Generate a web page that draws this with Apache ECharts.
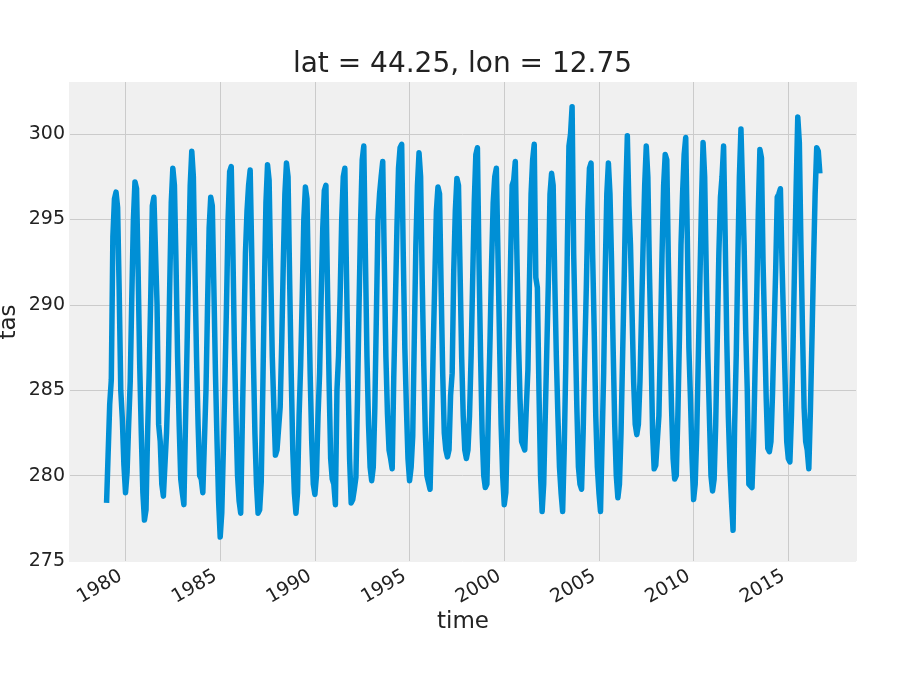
<!DOCTYPE html>
<html>
<head>
<meta charset="utf-8">
<script src="https://cdn.jsdelivr.net/npm/echarts@6/dist/echarts.min.js"></script>
<style>
html, body { margin: 0; padding: 0; background: #ffffff; }
#chart { width: 900px; height: 700px; }
</style>
</head>
<body>
<div id="chart"></div>
<script>
// Monthly near-surface air temperature (K), starting January 1979
const startYear = 1979;
const y1979 = [278.4, 278.5, 284.2, 285.6, 294.0, 296.2, 296.6, 295.7, 290.8, 285.0, 283.3, 280.6];
const y1980 = [279.0, 280.2, 283.0, 285.5, 290.5, 295.0, 297.2, 296.8, 292.0, 286.5, 282.5, 279.0];
const y1981 = [277.4, 278.0, 282.5, 286.0, 290.5, 295.8, 296.3, 296.4, 290.0, 283.0, 282.0, 279.5];
const y1982 = [278.8, 278.9, 282.5, 285.5, 291.0, 296.0, 298.0, 297.0, 292.5, 287.0, 283.0, 279.8];
const y1983 = [279.0, 278.3, 283.0, 287.5, 292.5, 297.0, 299.0, 297.5, 292.0, 287.0, 283.0, 280.0];
const y1984 = [279.8, 279.0, 282.0, 285.0, 290.0, 294.5, 296.3, 295.8, 291.0, 286.0, 282.0, 278.5];
const y1985 = [276.4, 277.8, 281.5, 285.5, 290.0, 295.0, 297.8, 298.1, 293.5, 287.5, 283.5, 280.0];
const y1986 = [278.5, 277.8, 283.0, 288.0, 293.0, 295.5, 297.0, 297.9, 293.0, 287.0, 282.5, 279.5];
const y1987 = [277.8, 278.0, 279.6, 285.0, 291.0, 296.0, 298.2, 297.3, 292.0, 287.0, 284.0, 281.2];
const y1988 = [281.5, 281.4, 284.0, 287.8, 292.5, 296.5, 298.3, 297.5, 291.5, 286.0, 281.5, 279.0];
const y1989 = [277.8, 279.0, 283.5, 286.5, 290.5, 295.0, 296.9, 296.2, 291.0, 286.0, 282.0, 279.5];
const y1990 = [278.9, 280.0, 283.5, 286.0, 290.5, 294.5, 296.7, 297.0, 291.0, 285.5, 281.0, 279.8];
const y1991 = [279.5, 278.3, 285.0, 287.0, 290.5, 295.0, 297.5, 298.0, 292.0, 286.0, 281.0, 278.4];
const y1992 = [278.6, 279.2, 279.9, 284.5, 290.0, 295.0, 298.5, 299.3, 293.0, 287.0, 283.0, 280.5];
const y1993 = [279.7, 280.5, 284.0, 289.5, 295.0, 296.5, 297.5, 298.4, 292.5, 287.0, 283.6, 281.5];
const y1994 = [281.0, 280.4, 285.8, 290.0, 294.5, 298.0, 299.2, 299.4, 293.0, 287.5, 284.0, 281.0];
const y1995 = [279.7, 280.5, 282.3, 288.0, 293.5, 297.0, 298.9, 297.5, 291.5, 286.5, 282.5, 280.0];
const y1996 = [280.0, 279.2, 283.0, 287.5, 291.5, 295.5, 296.9, 296.5, 291.0, 286.0, 282.5, 281.5];
const y1997 = [281.1, 281.5, 284.7, 286.0, 292.0, 295.5, 297.4, 297.0, 292.0, 287.0, 283.5, 281.5];
const y1998 = [281.0, 281.5, 283.5, 287.0, 291.5, 296.0, 298.8, 299.2, 292.5, 287.0, 282.5, 280.0];
const y1999 = [279.3, 279.5, 284.0, 288.0, 292.5, 296.0, 297.5, 298.0, 293.0, 288.0, 283.0, 280.0];
const y2000 = [278.3, 279.0, 283.0, 287.5, 292.5, 297.0, 297.3, 298.4, 293.0, 288.0, 284.5, 282.0];
const y2001 = [282.0, 281.5, 284.0, 286.2, 291.5, 296.5, 298.5, 299.4, 291.6, 291.0, 285.0, 280.0];
const y2002 = [277.9, 279.5, 283.5, 287.5, 291.5, 296.5, 297.7, 297.0, 291.5, 287.0, 283.5, 280.5];
const y2003 = [279.0, 277.9, 281.5, 286.5, 293.5, 299.3, 300.0, 301.6, 293.0, 288.5, 284.0, 280.5];
const y2004 = [279.5, 279.2, 282.5, 287.0, 291.0, 295.5, 298.0, 298.3, 293.0, 288.5, 283.5, 280.5];
const y2005 = [279.0, 277.9, 282.0, 286.0, 292.0, 296.5, 298.3, 296.5, 292.5, 287.5, 283.0, 280.0];
const y2006 = [278.7, 279.5, 282.5, 287.0, 291.5, 296.5, 299.9, 295.8, 293.5, 289.5, 285.5, 283.0];
const y2007 = [282.4, 283.0, 285.5, 289.5, 293.5, 297.0, 299.3, 297.5, 292.0, 287.5, 282.5, 280.4];
const y2008 = [280.6, 280.5, 283.5, 288.0, 293.0, 297.0, 298.8, 298.5, 292.5, 288.0, 284.0, 281.0];
const y2009 = [279.8, 280.0, 283.5, 288.0, 293.5, 296.5, 298.8, 299.8, 294.0, 287.5, 284.5, 281.0];
const y2010 = [278.6, 279.5, 282.5, 287.0, 291.5, 296.0, 299.5, 297.5, 292.0, 287.0, 283.5, 280.0];
const y2011 = [279.1, 279.8, 283.0, 288.0, 293.0, 296.3, 297.5, 299.3, 294.0, 288.0, 283.5, 280.5];
const y2012 = [278.5, 276.8, 283.0, 287.0, 292.5, 297.5, 300.3, 300.3, 293.5, 288.5, 285.0, 279.5];
const y2013 = [279.4, 279.3, 282.0, 286.5, 290.5, 295.5, 299.1, 298.6, 292.5, 288.5, 284.5, 281.6];
const y2014 = [281.4, 282.0, 284.8, 288.5, 292.0, 296.3, 296.5, 296.8, 292.5, 289.0, 285.5, 282.0];
const y2015 = [281.0, 280.8, 283.5, 287.5, 292.5, 297.0, 301.0, 299.5, 293.5, 288.5, 284.0, 282.0];
const y2016 = [281.5, 280.4, 283.8, 288.0, 292.5, 296.5, 299.2, 299.0, 297.7];

const yTickLabels = [275, 280, 285, 290, 295, 300];
const xTickLabels = [1980, 1985, 1990, 1995, 2000, 2005, 2010, 2015];

const tasValues = [].concat(
  y1979, y1980, y1981, y1982, y1983, y1984, y1985, y1986, y1987, y1988,
  y1989, y1990, y1991, y1992, y1993, y1994, y1995, y1996, y1997, y1998,
  y1999, y2000, y2001, y2002, y2003, y2004, y2005, y2006, y2007, y2008,
  y2009, y2010, y2011, y2012, y2013, y2014, y2015, y2016
);
// decimal-year time coordinate of each monthly sample
const seriesData = tasValues.map((v, i) => [startYear + i / 12, v]);

const FONT = '"DejaVu Sans", "Liberation Sans", sans-serif';
const TXT = '#222222';
const GRID = '#cbcbcb';
const BG = '#f0f0f0';

const xMin = 1977.0164, xMax = 2018.575;
const yMin = 275, yMax = 303.05;

const chart = echarts.init(document.getElementById('chart'), null, { renderer: 'canvas' });
chart.setOption({
  backgroundColor: '#ffffff',
  animation: false,
  grid: {
    left: 69, right: 44, top: 82, bottom: 139,
    show: true, backgroundColor: BG, borderWidth: 0
  },
  xAxis: {
    type: 'value',
    min: xMin, max: xMax,
    minInterval: 5, maxInterval: 5, splitNumber: 8,
    axisLine: { show: false },
    axisTick: { show: false },
    splitLine: {
      show: true,
      lineStyle: { color: [BG, GRID, GRID, GRID, GRID, GRID, GRID, GRID, GRID, BG], width: 1 }
    },
    axisLabel: {
      rotate: 30,
      align: 'right',
      verticalAlign: 'bottom',
      margin: 22,
      fontFamily: FONT, fontSize: 19, color: TXT,
      formatter: function (v) {
        const r = Math.round(v);
        return (Math.abs(v - r) < 1e-6 && xTickLabels.indexOf(r) >= 0) ? String(r) : '';
      }
    }
  },
  yAxis: {
    type: 'value',
    min: yMin, max: yMax, interval: 5,
    axisLine: { show: false },
    axisTick: { show: false },
    splitLine: {
      show: true,
      lineStyle: { color: [BG, GRID, GRID, GRID, GRID, GRID, BG], width: 1 }
    },
    axisLabel: {
      margin: 4,
      fontFamily: FONT, fontSize: 19, color: TXT,
      formatter: function (v) {
        return yTickLabels.indexOf(v) >= 0 ? String(v) : '';
      }
    }
  },
  series: [{
    type: 'line',
    data: seriesData,
    showSymbol: false,
    symbol: 'none',
    lineStyle: { color: '#008fd5', width: 5.5, cap: 'butt', join: 'round' },
    silent: true
  }],
  graphic: [
    {
      type: 'text', x: 462.5, y: 64.5, silent: true,
      style: { text: 'lat = 44.25, lon = 12.75', font: '28px ' + FONT, fill: TXT,
               align: 'center', verticalAlign: 'middle', textAlign: 'center', textVerticalAlign: 'middle' }
    },
    {
      type: 'text', x: 463, y: 622, silent: true,
      style: { text: 'time', font: '23px ' + FONT, fill: TXT,
               align: 'center', verticalAlign: 'middle', textAlign: 'center', textVerticalAlign: 'middle' }
    },
    {
      type: 'text', x: 9, y: 322, rotation: Math.PI / 2, silent: true,
      style: { text: 'tas', font: '23px ' + FONT, fill: TXT,
               align: 'center', verticalAlign: 'middle', textAlign: 'center', textVerticalAlign: 'middle' }
    }
  ]
});
</script>
</body>
</html>
